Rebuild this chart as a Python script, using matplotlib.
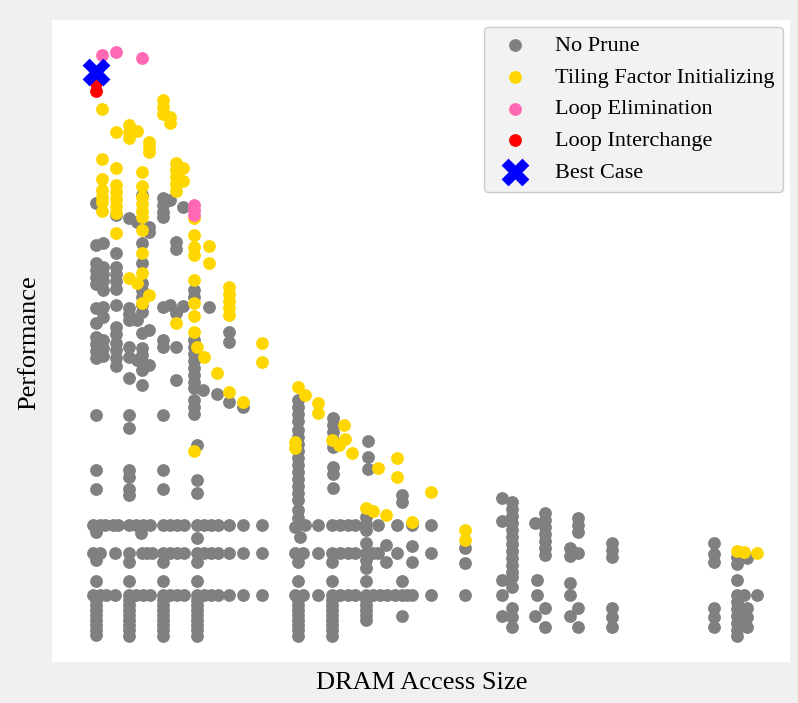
import matplotlib.pyplot as plt

# values (arbitrary units: x = DRAM access size, y = performance rank, top = best)
no_prune = [
    # first column group
    (96, 203), (96, 245), (103, 243), (96, 263), (96, 270), (96, 277), (96, 284),
    (103, 267), (103, 274), (103, 281), (103, 290), (96, 308), (103, 307), (103, 317), (96, 323),
    (96, 337), (96, 344), (96, 351), (96, 358), (103, 340), (103, 348), (103, 356),
    (96, 415), (96, 470), (96, 489),
    (93, 525), (100, 525), (105, 525), (113, 525), (118, 525), (96, 532),
    (93, 553), (100, 553), (115, 553), (96, 560), (96, 581),
    (93, 595), (100, 595), (106, 595), (115, 595),
    (96, 600), (96, 605), (96, 610), (96, 615), (96, 620), (96, 625), (96, 630), (96, 635),
    (116, 215), (116, 253), (116, 267), (116, 274), (116, 281), (116, 289), (116, 305),
    (116, 327), (116, 334), (116, 343), (116, 350), (116, 358), (116, 366),
    # second group
    (129, 218), (137, 222), (129, 308), (129, 314), (129, 320), (137, 320),
    (129, 347), (129, 357), (137, 360), (129, 378), (129, 415), (129, 428),
    (129, 470), (129, 477), (129, 489), (129, 495),
    (129, 525), (136, 525), (143, 525), (150, 525), (141, 533),
    (129, 553), (142, 553), (147, 553), (152, 553), (129, 562), (129, 581),
    (129, 595), (136, 595), (143, 595), (150, 595),
    (129, 600), (129, 605), (129, 610), (129, 615), (129, 620), (129, 625), (129, 630), (129, 636),
    (142, 195), (149, 227), (149, 232), (142, 243), (142, 263),
    (142, 283), (142, 290), (142, 297), (142, 305), (142, 312), (142, 333), (149, 330),
    (142, 348), (142, 355), (142, 362), (142, 370), (149, 365), (142, 385),
    # third group
    (163, 198), (163, 205), (163, 212), (163, 217), (170, 200), (163, 307), (170, 305),
    (163, 340), (163, 347), (163, 415), (163, 470), (163, 489),
    (163, 525), (170, 525), (177, 525), (184, 525),
    (163, 553), (170, 553), (177, 553), (184, 553), (163, 562), (163, 581),
    (163, 595), (170, 595), (177, 595), (184, 595),
    (163, 600), (163, 605), (163, 610), (163, 615), (163, 620), (163, 625), (163, 630), (163, 636),
    (183, 207), (176, 242), (176, 249), (176, 313), (183, 306), (176, 347), (176, 380),
    # fourth group
    (194, 290), (194, 297), (194, 340), (194, 347), (194, 354), (194, 361), (194, 368),
    (194, 375), (194, 382), (194, 388), (203, 390), (194, 400), (194, 407), (194, 414),
    (197, 445), (197, 480), (197, 493),
    (197, 525), (204, 525), (211, 525), (218, 525), (197, 538),
    (197, 553), (204, 553), (211, 553), (218, 553), (197, 562), (197, 581),
    (197, 595), (204, 595), (211, 595), (218, 595),
    (197, 600), (197, 605), (197, 610), (197, 615), (197, 620), (197, 625), (197, 630), (197, 636),
    (209, 307), (217, 394), (229, 332), (229, 342), (229, 402), (243, 407),
    (229, 525), (243, 525), (262, 525), (229, 553), (243, 553), (262, 553),
    (229, 595), (243, 595), (262, 595),
    # middle groups
    (298, 400), (298, 407), (298, 414), (298, 421), (298, 430), (298, 437), (298, 444),
    (298, 451), (298, 458), (298, 465), (298, 472), (298, 479), (298, 486), (298, 493),
    (298, 500), (298, 510), (298, 518), (295, 527), (305, 525), (300, 537),
    (295, 553), (303, 553), (318, 553), (318, 525), (298, 562), (298, 581),
    (295, 595), (303, 595), (318, 595),
    (298, 600), (298, 605), (298, 610), (298, 615), (298, 620), (298, 625), (298, 630), (298, 636),
    (333, 418), (333, 425), (333, 432), (333, 440), (333, 447), (333, 467), (333, 474), (333, 488),
    (332, 525), (340, 525), (348, 525), (355, 525),
    (332, 553), (340, 553), (348, 553), (355, 553), (332, 562), (332, 581),
    (332, 595), (340, 595), (348, 595), (355, 595),
    (332, 600), (332, 605), (332, 610), (332, 615), (332, 620), (332, 625), (332, 630), (332, 636),
    (368, 441), (368, 457), (368, 469), (366, 517), (366, 524), (366, 530), (366, 543),
    (366, 553), (373, 553), (366, 560), (366, 568), (366, 581), (378, 525), (378, 553),
    (366, 595), (373, 595), (380, 595), (387, 595),
    (366, 600), (366, 605), (366, 610), (366, 615), (366, 620),
    (386, 545), (386, 562), (397, 525), (397, 553),
    (402, 495), (402, 502), (402, 581), (402, 616), (395, 595), (402, 595), (407, 595),
    (412, 525), (412, 546), (412, 562), (412, 595),
    (431, 525), (431, 553), (431, 595), (465, 548), (465, 563), (465, 595),
    # right side
    (502, 498), (502, 521), (512, 502), (512, 509), (512, 516), (512, 523), (512, 530),
    (512, 537), (512, 544), (512, 551), (512, 558), (512, 565), (512, 572), (512, 577),
    (502, 580), (512, 587), (502, 595), (512, 608), (512, 617), (502, 616), (512, 627),
    (535, 523), (545, 513), (545, 520), (545, 527), (545, 534), (545, 541), (545, 548),
    (545, 555), (537, 580), (537, 595), (545, 608), (535, 616), (545, 627),
    (578, 518), (578, 525), (578, 532), (570, 548), (570, 556), (578, 553),
    (570, 583), (570, 595), (578, 608), (570, 616), (578, 627),
    (612, 543), (612, 550), (612, 557), (612, 608), (612, 617), (612, 627),
    (714, 543), (714, 554), (714, 562), (714, 608), (714, 617), (714, 627),
    (737, 557), (737, 564), (747, 558), (737, 580), (737, 595), (737, 602), (737, 609),
    (737, 616), (737, 623), (737, 630), (737, 636), (744, 595), (757, 595),
    (747, 608), (747, 617), (747, 627),
]

tiling = [
    (102, 109), (163, 100), (163, 107), (163, 114), (170, 117), (170, 123),
    (116, 132), (129, 125), (129, 132), (129, 138), (137, 131),
    (149, 142), (149, 147), (149, 152), (102, 159), (116, 168), (142, 172),
    (176, 163), (176, 170), (176, 177), (176, 184), (176, 191), (183, 168), (183, 181),
    (102, 179), (102, 190), (102, 197), (102, 202), (102, 211),
    (116, 185), (116, 192), (116, 199), (116, 206), (116, 213),
    (142, 186), (142, 197), (142, 204), (142, 211), (142, 217),
    (116, 233), (142, 230), (142, 253), (142, 273), (129, 278), (137, 283), (149, 295), (142, 303),
    (194, 218), (194, 235), (194, 247), (194, 255), (209, 246), (209, 263),
    (194, 280), (194, 303), (194, 316), (194, 332),
    (229, 287), (229, 294), (229, 301), (229, 308), (229, 315),
    (262, 343), (262, 362), (176, 323),
    (197, 347), (204, 357), (217, 373), (229, 392), (243, 402), (194, 451),
    (298, 387), (305, 395), (318, 403), (318, 413), (295, 442), (295, 448),
    (344, 425), (332, 440), (339, 445), (345, 439), (352, 453), (397, 458), (378, 468),
    (397, 477), (431, 492), (366, 508), (373, 511), (386, 515), (412, 522),
    (465, 530), (465, 540), (737, 551), (744, 552), (757, 553),
]

loop_elim = [(102, 55), (116, 52), (142, 58), (194, 205), (194, 210), (194, 215)]
loop_inter = [(96, 77), (96, 83), (96, 91)]
best_case = [(96, 72)]

series = [
    ("No Prune", no_prune, "#808080", "o", 85),
    ("Tiling Factor Initializing", tiling, "#ffd700", "o", 85),
    ("Loop Elimination", loop_elim, "#ff69b4", "o", 85),
    ("Loop Interchange", loop_inter, "#ff0000", "o", 85),
    ("Best Case", best_case, "#0000ff", "X", 400),
]

plt.rcParams['font.family'] = ['Liberation Serif', 'DejaVu Serif']

fig = plt.figure(figsize=(7.98, 7.03), dpi=100, facecolor='#f0f0f0')
ax = fig.add_axes([52 / 798, 41 / 703, 738 / 798, 642 / 703])
ax.set_facecolor('white')

for label, pts, color, marker, size in series:
    xs = [p[0] for p in pts]
    ys = [p[1] for p in pts]
    ax.scatter(xs, ys, s=size, c=color, marker=marker, label=label, linewidths=0)

ax.set_xlim(52, 790)
ax.set_ylim(662, 20)
ax.set_xticks([])
ax.set_yticks([])
for sp in ax.spines.values():
    sp.set_visible(False)

fig.text(0.529, 0.029, "DRAM Access Size", ha='center', va='center', fontsize=19)
fig.text(0.037, 0.513, "Performance", ha='center', va='center', rotation=90, fontsize=19)

leg = ax.legend(loc='upper right', fontsize=16, scatterpoints=1, labelspacing=0.5,
                frameon=True, facecolor='#f2f2f2', edgecolor='#cccccc', framealpha=1,
                borderaxespad=0.3)

fig.savefig("out.png", dpi=100, facecolor=fig.get_facecolor())
